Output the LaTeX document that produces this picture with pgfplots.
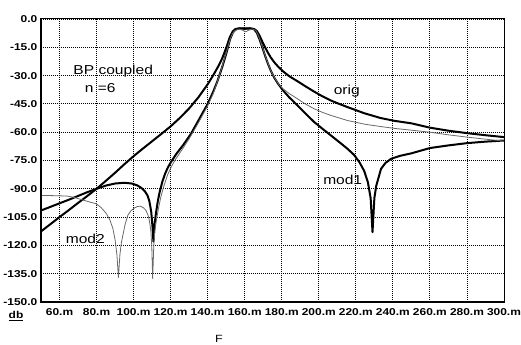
\documentclass[border=0pt]{standalone}
\usepackage{fontspec}
\usepackage{pgfplots}
\pgfplotsset{compat=1.18}
\newfontfamily\lblfont[FakeStretch=1.2]{Liberation Sans}

\begin{document}
\begin{tikzpicture}
\begin{axis}[
  at={(0,0)}, anchor=south west,
  scale only axis, width=463bp, height=283bp,
  xmin=50, xmax=300, ymin=-150, ymax=0,
  xtick={60,80,100,120,140,160,180,200,220,240,260,280,300},
  xticklabels={60.m,80.m,100.m,120.m,140.m,160.m,180.m,200.m,220.m,240.m,260.m,280.m,300.m},
  ytick={-150,-135,-120,-105,-90,-75,-60,-45,-30,-15,0},
  yticklabels={-150.0,-135.0,-120.0,-105.0,-90.0,-75.0,-60.0,-45.0,-30.0,-15.0,0.0},
  major tick length=0pt,
  grid=major,
  major grid style={black, line width=0.85bp, dash pattern=on 0.85bp off 1.15bp},
  axis line style={black, line width=1bp},
  tick label style={font=\lblfont\bfseries\fontsize{10}{12}\selectfont},
  xticklabel style={anchor=north, inner sep=0pt, yshift=-6bp},
  yticklabel style={anchor=east, inner sep=0pt, xshift=-3.5bp},
  every axis plot/.append style={line join=round, line cap=round},
]
% original coupled band-pass, n = 6
\addplot[black, line width=2bp] coordinates {
(50,-112.6) (55,-108.8) (60,-105) (65,-101.3) (70,-97.5) (75,-93.8) (80,-90)
(85,-85.8) (90,-81.5) (95,-77) (100,-72.7) (105,-68.7) (110,-64.8) (115,-60.9)
(120,-56.9) (125,-52.4) (130,-47.4) (135,-41.5) (140,-34.6) (143,-29.8) (146,-24.6)
(148,-20.5) (150,-15.3) (152,-9.5) (153.5,-6.6) (155,-5.3) (157,-5) (160,-5)
(163,-5) (165,-5.3) (166.5,-6.3) (168,-8.8) (169.5,-12) (171,-15) (172.5,-17.8)
(174,-20.3) (176,-23) (178,-25.2) (181,-28) (184,-30.3) (188.5,-33)
(193,-35.8) (197.5,-38.5) (202,-41) (206.5,-43.2) (211,-45) (215.5,-46.7)
(220,-48.3) (224.4,-49.9) (233.4,-52.5) (241,-54) (250,-55.3) (260,-57.6)
(270,-59.2) (280,-60.5) (290,-61.6) (300,-62.6)
};
% mod1
\addplot[black, line width=2bp] coordinates {
(50,-101.5) (55,-99.6) (60,-97.7) (65,-95.8) (70,-93.8) (75,-91.8) (80,-90)
(85,-88.3) (90,-87.2) (95,-86.8) (99,-87.2) (102,-88.2) (104,-89.4)
(106,-91.2) (107.5,-93.5) (108.5,-96.5) (109.5,-102) (110.2,-110)
(110.7,-118) (111.3,-109) (112,-103.5) (113,-97) (114,-92) (115.5,-86.3)
(117,-82) (118.5,-78.7) (120.2,-75.8) (123,-71.6) (127,-66.5) (131,-60.8)
(135,-53.8) (140,-45) (143,-38.5) (145.4,-32.6) (148,-25) (150,-18.5)
(152,-11) (153.5,-7.3) (155,-5.6) (157,-5) (160,-5.2) (163,-5) (165,-5.4)
(166.5,-7.2) (168,-10.8) (169.5,-15) (171,-19.5) (172.5,-23.6) (174,-27.2)
(176,-31.2) (178,-34.3) (180.5,-37.6) (184,-41.5) (188.5,-45.8) (193,-50.3)
(197.5,-54.6) (202,-58.2) (206.5,-61.7) (211,-65.2) (215.5,-68.8) (219,-72)
(222,-76) (224.5,-80.5) (226.5,-86.5) (228,-95) (229,-113) (230,-95)
(231,-88.5) (233.6,-79.4) (236,-76.3) (239,-74.1) (244,-72.5) (250,-71.2)
(260,-68.4) (270,-67) (280,-65.8) (290,-65) (300,-64.4)
};
% mod2
\addplot[color={rgb,255:red,105;green,105;blue,105}, line width=0.8bp] coordinates {
(50,-93.6) (55,-93.6) (60,-93.7) (64.5,-93.9) (68,-94.6) (73.5,-96.2)
(77,-97.2) (79.8,-97.9) (82.5,-100) (85.2,-103) (87.2,-106.5) (88.8,-111)
(90,-117) (91,-125) (91.8,-137) (92.6,-125) (93.4,-118.5) (94.2,-114.7)
(95.5,-108.5) (96.9,-104) (98.5,-101.7) (100.4,-100.2) (102,-99.4)
(103.7,-99.2) (105.3,-100) (106.7,-101.5) (107.8,-104) (108.5,-106.8)
(109.3,-112) (109.8,-120) (110.3,-137.7) (110.9,-120) (111.4,-113)
(112.1,-108) (113.5,-100) (114.8,-94) (116.5,-88) (118.4,-82.5) (120.5,-78)
(122.9,-74) (126,-69.5) (130,-63.5) (135,-55) (140,-46) (143,-39.5)
(146,-31) (148,-24.5) (150,-18) (152,-11) (153.5,-7.5) (155,-6) (157,-5.3)
(159,-6) (160.5,-6.8) (162,-6) (164,-5.3) (166,-6) (167.5,-9) (169,-13.2)
(170.5,-17.8) (172,-22) (174,-27.2) (176,-31) (178.5,-34.8) (181,-37.2)
(184,-39.5) (188.5,-42.3) (193,-45.2) (197.5,-47.6) (202,-49.5) (206.5,-51.1)
(215.5,-53.8) (225,-55.8) (233.4,-57) (241,-58) (249.7,-58.9) (260,-60)
(270,-61.4) (280,-62.6) (290,-63.7) (300,-64.7)
};
\begin{scope}[font=\lblfont\fontsize{13}{15}\selectfont]
\node at (axis cs:89,-27.5) {BP coupled};
\node at (axis cs:82,-36.5) {n =6};
\node at (axis cs:215.1,-38) {orig};
\node at (axis cs:212.9,-85.5) {mod1};
\node at (axis cs:73.9,-116.4) {mod2};
\end{scope}
\end{axis}
% heavier left and bottom frame
\draw[line width=2.4bp, line cap=rect] (0,283bp) -- (0,0) -- (463bp,0);
\node[font=\lblfont\bfseries\fontsize{10}{12}\selectfont, inner sep=0pt]
  at (-25bp,-14bp) {\underline{db}};
\node[font=\lblfont\fontsize{10.5}{12}\selectfont, inner sep=0pt]
  at (178bp,-37bp) {F};
\pgfresetboundingbox
\path (-41bp,-43bp) rectangle (480bp,302bp);
\end{tikzpicture}
\end{document}
